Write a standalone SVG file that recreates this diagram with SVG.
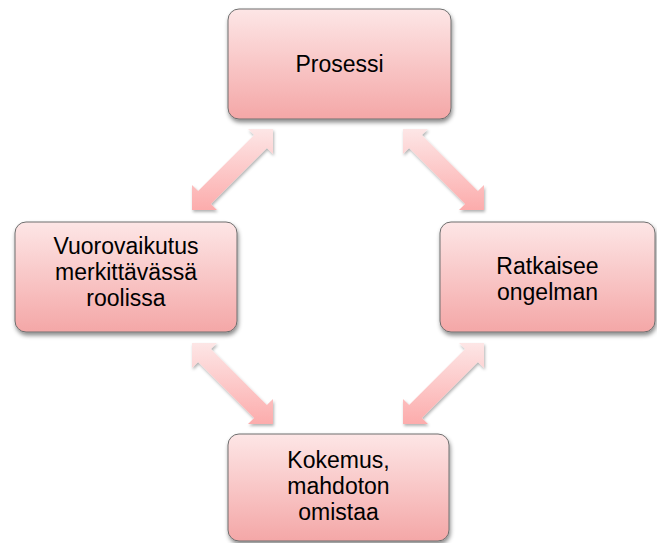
<svg xmlns="http://www.w3.org/2000/svg" width="657" height="543" viewBox="0 0 657 543">
  <defs>
    <linearGradient id="boxFill" x1="0" y1="0" x2="0" y2="1">
      <stop offset="0" stop-color="#fde6e6"/>
      <stop offset="1" stop-color="#f4a7a7"/>
    </linearGradient>
    <linearGradient id="arrowFill" x1="0" y1="0" x2="0" y2="1">
      <stop offset="0" stop-color="#fde6e6"/>
      <stop offset="1" stop-color="#fcacac"/>
    </linearGradient>
    <filter id="boxShadow" x="-10%" y="-10%" width="120%" height="130%">
      <feDropShadow dx="1" dy="3" stdDeviation="2" flood-color="#000" flood-opacity="0.45"/>
    </filter>
    <filter id="arrowShadow" x="-20%" y="-20%" width="140%" height="140%">
      <feDropShadow dx="1" dy="2" stdDeviation="1.5" flood-color="#000" flood-opacity="0.3"/>
    </filter>
  </defs>
  <style>
    .box { fill: url(#boxFill); stroke: #6e6e6e; stroke-width: 1; filter: url(#boxShadow); }
    .arrow { fill: url(#arrowFill); stroke: none; filter: url(#arrowShadow); }
    .label { font-family: "Liberation Sans", Arial, sans-serif; font-size: 23px; fill: #000; text-anchor: middle; }
  </style>

  <g id="connectors">
    <polygon class="arrow" points="273,129 273,154 266.9,147.9 210.9,203.9 217,210 192,210 192,185 198.1,191.1 254.1,135.1 248,129"/>
    <polygon class="arrow" points="403,129 428,129 421.9,135.1 477.9,191.1 484,185 484,210 459,210 465.1,203.9 409.1,147.9 403,154"/>
    <polygon class="arrow" points="192,343 217,343 210.9,349.1 266.9,405.1 273,399 273,424 248,424 254.1,417.9 198.1,361.9 192,368"/>
    <polygon class="arrow" points="484,343 484,368 477.9,361.9 421.9,417.9 428,424 403,424 403,399 409.1,405.1 465.1,349.1 459,343"/>
  </g>

  <g id="node-prosessi">
    <rect class="box" x="228" y="9" width="223" height="110" rx="11" ry="11"/>
    <text class="label" x="339.5" y="72">Prosessi</text>
  </g>

  <g id="node-vuorovaikutus">
    <rect class="box" x="15" y="222" width="222" height="110" rx="11" ry="11"/>
    <text class="label" x="126" y="254">Vuorovaikutus</text>
    <text class="label" x="126" y="280">merkittävässä</text>
    <text class="label" x="126" y="306">roolissa</text>
  </g>

  <g id="node-ratkaisee">
    <rect class="box" x="440" y="222" width="215" height="110" rx="11" ry="11"/>
    <text class="label" x="547.5" y="274">Ratkaisee</text>
    <text class="label" x="547.5" y="300">ongelman</text>
  </g>

  <g id="node-kokemus">
    <rect class="box" x="228" y="434" width="221" height="107" rx="11" ry="11"/>
    <text class="label" x="338.5" y="468">Kokemus,</text>
    <text class="label" x="338.5" y="494">mahdoton</text>
    <text class="label" x="338.5" y="520">omistaa</text>
  </g>
</svg>
